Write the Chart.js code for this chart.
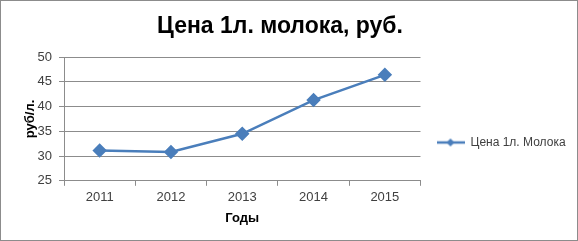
<!DOCTYPE html>
<html>
<head>
<meta charset="utf-8">
<script src="https://cdn.jsdelivr.net/npm/chart.js@4.4.1/dist/chart.umd.min.js"></script>
<style>
  html, body { margin: 0; padding: 0; background: #fff; }
  #wrap { width: 576px; height: 239px; border: 1px solid #8c8c8c; position: relative; }
</style>
</head>
<body>
<div id="wrap"><canvas id="milkChart"></canvas></div>
<script>
// --- data ---
const years = ['2011', '2012', '2013', '2014', '2015'];
const milkPrice = [31.1, 30.8, 34.5, 41.3, 46.4];
const seriesName = 'Цена 1л. Молока';
const chartTitle = 'Цена 1л. молока, руб.';
const yTitle = 'руб/л.';
const xTitle = 'Годы';

const lineBlue = '#4a7ebb';
const gridGray = '#8c8c8c';
const textGray = '#404040';
const font = "'Liberation Sans', Arial, sans-serif";

// legend symbol: short line with diamond marker, like Excel
function legendSymbol() {
  const c = document.createElement('canvas');
  c.width = 28; c.height = 10;
  const g = c.getContext('2d');
  g.strokeStyle = lineBlue;
  g.lineWidth = 2.5;
  g.beginPath(); g.moveTo(0, 5); g.lineTo(28, 5); g.stroke();
  g.fillStyle = lineBlue;
  g.beginPath(); g.moveTo(14, 1); g.lineTo(18, 5); g.lineTo(14, 9); g.lineTo(10, 5); g.closePath(); g.fill();
  return c;
}

// Excel puts the title a bit left of centre and the legend lower and further right
const excelLayout = {
  id: 'excelLayout',
  afterLayout(chart) {
    chart.titleBlock.right -= 12;
    chart.legend.left += 8;
    chart.legend.right += 30;
    chart.legend.top += 24;
    chart.legend.bottom += 24;
  }
};

const ctx = document.getElementById('milkChart').getContext('2d');
new Chart(ctx, {
  type: 'line',
  data: {
    labels: years,
    datasets: [{
      label: seriesName,
      data: milkPrice,
      borderColor: lineBlue,
      backgroundColor: lineBlue,
      borderWidth: 2.5,
      pointStyle: 'rectRot',
      pointRadius: 5.5,
      pointBackgroundColor: lineBlue,
      pointBorderColor: lineBlue,
      tension: 0
    }]
  },
  plugins: [excelLayout],
  options: {
    responsive: true,
    maintainAspectRatio: false,
    animation: false,
    layout: { padding: { top: 10, left: 16, right: 22, bottom: 14 } },
    plugins: {
      title: {
        display: true,
        text: chartTitle,
        color: '#000',
        font: { family: font, size: 23, weight: 'bold' },
        padding: { top: 2, bottom: 16.4 }
      },
      legend: {
        position: 'right',
        labels: {
          usePointStyle: true,
          pointStyleWidth: 28,
          color: textGray,
          font: { family: font, size: 12 },
          padding: 8,
          generateLabels: (chart) => chart.data.datasets.map((ds, i) => ({
            text: ds.label,
            pointStyle: legendSymbol(),
            fillStyle: ds.borderColor,
            strokeStyle: ds.borderColor,
            fontColor: textGray,
            lineWidth: 0,
            datasetIndex: i
          }))
        }
      },
      tooltip: { enabled: false }
    },
    scales: {
      x: {
        offset: true,
        grid: { display: true, offset: true, drawOnChartArea: false, drawTicks: true, tickLength: 5, color: gridGray },
        border: { display: true, color: gridGray },
        ticks: { color: textGray, font: { family: font, size: 13 }, padding: 4 },
        title: { display: true, text: xTitle, color: '#000', font: { family: font, size: 13, weight: 'bold' }, padding: { top: 1, bottom: 0 } }
      },
      y: {
        min: 25,
        max: 50,
        afterFit: (scale) => { scale.width = 47; },
        ticks: { stepSize: 5, color: textGray, font: { family: font, size: 13 }, padding: 7 },
        grid: { color: gridGray, tickLength: 5 },
        border: { display: true, color: gridGray },
        title: { display: true, text: yTitle, color: '#000', font: { family: font, size: 13, weight: 'bold' }, padding: { top: 6, bottom: 0 } }
      }
    }
  }
});
</script>
</body>
</html>
